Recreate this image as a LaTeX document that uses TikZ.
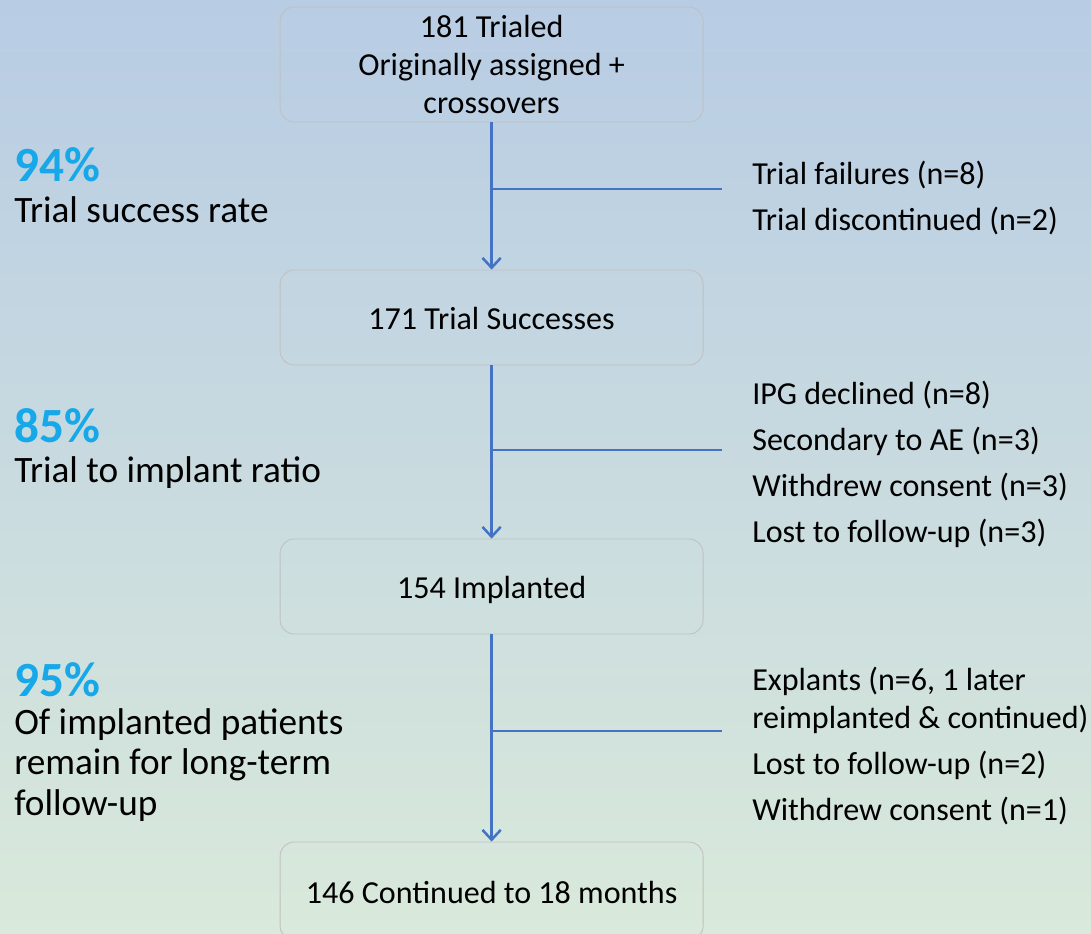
\documentclass[tikz,border=0pt]{standalone}
\usepackage{fontspec}
\setmainfont{Carlito}
\usetikzlibrary{arrows.meta,positioning,calc}
\definecolor{bgtop}{RGB}{184,204,228}
\definecolor{bgbot}{RGB}{217,233,219}
\definecolor{flow}{RGB}{68,114,196}
\definecolor{pct}{RGB}{22,168,232}
\definecolor{edge}{RGB}{192,192,192}

\begin{document}
\begin{tikzpicture}[
		>={Straight Barb[length=7pt,width=13pt]},
		box/.style={draw=edge, line width=0.6pt, rounded corners=10pt, minimum width=10.575cm, align=center, font=\fontsize{22.8}{27}\selectfont},
		single/.style={box, text height=22.8pt, text depth=5.7pt},
		flowline/.style={draw=flow, line width=1.8pt},
		rate/.style={anchor=west, inner sep=0pt, text=pct, font=\fontsize{35}{38}\selectfont\bfseries},
		note/.style={anchor=west, inner sep=0pt, align=left, font=\fontsize{26.5}{29}\selectfont},
		loss/.style={anchor=west, inner sep=0pt, align=left, font=\fontsize{22.8}{27}\selectfont}
		]
		
		% Background
		\useasboundingbox (0,0) rectangle (27.275,-23.35);
		\shade[top color=bgtop, bottom color=bgbot] (0,0) rectangle (27.275,-23.35);
		
		% -------------------------
		% Flow boxes
		% -------------------------
		\node[box, minimum height=2.875cm] (B1) at (12.29,-1.6125) {%
			181 Trialed\\
			Originally assigned +\\
			crossovers
		};
		\node[single, minimum height=2.375cm] (B2) at (12.29,-7.9375) {171 Trial Successes};
		\node[single, minimum height=2.375cm] (B3) at (12.29,-14.6625) {154 Implanted};
		\node[single, minimum height=2.45cm] (B4) at (12.29,-22.275) {146 Continued to 18 months};
		
		% -------------------------
		% Rates (left)
		% -------------------------
		\node[rate] (R1) at (0.35,-4.125) {94\%};
		\node[note] (N1) at (0.35,-5.25) {Trial success rate};
		
		\node[rate] (R2) at (0.35,-10.65) {85\%};
		\node[note] (N2) at (0.35,-11.825) {Trial to implant ratio};
		
		\node[rate] (R3) at (0.35,-17.0) {95\%};
		\node[note] (N3) at (0.35,-19.125) {%
			Of implanted patients\\
			remain for long-term\\
			follow-up
		};
		
		% -------------------------
		% Exclusions (right)
		% -------------------------
		\node[loss] (L1) at (18.8,-4.95) {%
			Trial failures (n=8)\\[5.7pt]
			Trial discontinued (n=2)
		};
		
		\node[loss] (L2) at (18.8,-11.6125) {%
			IPG declined (n=8)\\[5.7pt]
			Secondary to AE (n=3)\\[5.7pt]
			Withdrew consent (n=3)\\[5.7pt]
			Lost to follow-up (n=3)
		};
		
		\node[loss] (L3) at (18.8,-18.65) {%
			Explants (n=6, 1 later\\
			reimplanted \& continued)\\[5.7pt]
			Lost to follow-up (n=2)\\[5.7pt]
			Withdrew consent (n=1)
		};
		
		% -------------------------
		% Arrows
		% -------------------------
		\coordinate (J1) at (B1.south |- 0,-4.725);
		\coordinate (E1) at (18.05,-4.725);
		\coordinate (J2) at (B2.south |- 0,-11.25);
		\coordinate (E2) at (18.05,-11.25);
		\coordinate (J3) at (B3.south |- 0,-18.275);
		\coordinate (E3) at (18.05,-18.275);
		
		\draw[flowline, ->] (B1.south) -- (B2.north);
		\draw[flowline, ->] (B2.south) -- (B3.north);
		\draw[flowline, ->] (B3.south) -- (B4.north);
		
		\draw[flowline] (J1) -- (E1);
		\draw[flowline] (J2) -- (E2);
		\draw[flowline] (J3) -- (E3);
		
	\end{tikzpicture}
\end{document}
